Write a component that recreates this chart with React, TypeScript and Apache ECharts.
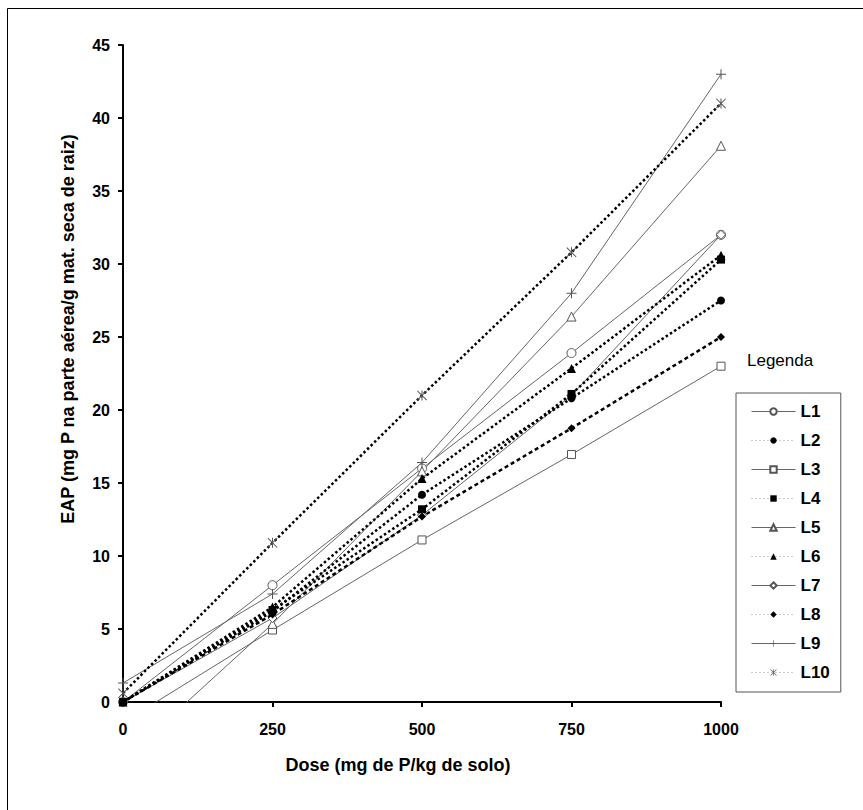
import React, { useEffect, useRef } from "react";
import * as echarts from "echarts";

const doses = [0, 250, 500, 750, 1000];
const seriesNames = ["L1", "L2", "L3", "L4", "L5", "L6", "L7", "L8", "L9", "L10"];
const L1 = [0, 8.0, 16.0, 23.9, 32.0];
const L2 = [0, 6.2, 14.2, 20.8, 27.5];
const L3 = [-1.4, 4.93, 11.1, 16.95, 23.0];
const L4 = [0, 6.3, 13.2, 21.1, 30.3];
const L5 = [-4.0, 5.35, 15.8, 26.4, 38.1];
const L6 = [0, 6.5, 15.3, 22.85, 30.6];
const L7 = [0, 5.75, 12.8, 21.0, 32.0];
const L8 = [0, 6.0, 12.7, 18.75, 25.0];
const L9 = [1.3, 7.4, 16.4, 28.0, 43.0];
const L10 = [0.6, 10.9, 21.0, 30.8, 41.0];
const seriesValues = [L1, L2, L3, L4, L5, L6, L7, L8, L9, L10];
const xTicks = [0, 250, 500, 750, 1000];

const FONT = "'Liberation Sans', Arial, sans-serif";
const PLUS = "path://M4.5,0H5.5V4.5H10V5.5H5.5V10H4.5V5.5H0V4.5H4.5Z";
const STAR =
  "path://M0,0.7L0.7,0L10,9.3L9.3,10Z M10,0.7L0.7,10L0,9.3L9.3,0Z M4.5,0H5.5V10H4.5Z";

type Sty = {
  symbol: string;
  size: number;
  fill: string;
  border: string;
  bw: number;
  solid: boolean;
  dash?: number[];
};

const styles: Sty[] = [
  { symbol: "circle", size: 9, fill: "#fff", border: "#555", bw: 1, solid: true },
  { symbol: "circle", size: 8, fill: "#000", border: "#000", bw: 0, solid: false, dash: [2.5, 2.5] },
  { symbol: "rect", size: 8, fill: "#fff", border: "#555", bw: 1, solid: true },
  { symbol: "rect", size: 8, fill: "#000", border: "#000", bw: 0, solid: false, dash: [2.5, 2.5] },
  { symbol: "triangle", size: 9, fill: "#fff", border: "#555", bw: 1, solid: true },
  { symbol: "triangle", size: 9, fill: "#000", border: "#000", bw: 0, solid: false, dash: [2.5, 2.5] },
  { symbol: "diamond", size: 9, fill: "#fff", border: "#555", bw: 1, solid: true },
  { symbol: "diamond", size: 8, fill: "#000", border: "#000", bw: 0, solid: false, dash: [4, 3] },
  { symbol: PLUS, size: 10, fill: "#555", border: "#555", bw: 0, solid: true },
  { symbol: STAR, size: 10, fill: "#555", border: "#555", bw: 0, solid: false, dash: [2.5, 2.5] },
];

export default function App() {
  const ref = useRef<HTMLDivElement>(null);
  useEffect(() => {
    if (!ref.current) return;
    const chart = echarts.init(ref.current, undefined, { renderer: "svg" });
    const series = seriesNames.map((name, i) => {
      const s = styles[i];
      return {
        name,
        type: "line",
        clip: true,
        symbol: s.symbol,
        symbolSize: s.size,
        showSymbol: true,
        z: s.solid ? 2 : 3,
        itemStyle: { color: s.fill, borderColor: s.border, borderWidth: s.bw },
        lineStyle: s.solid
          ? { color: "#666", width: 1, type: "solid" }
          : { color: "#000", width: 2.5, type: s.dash },
        data: doses.map((d, k) => [d, seriesValues[i][k]]),
      };
    });
    const option = {
      animation: false,
      grid: { left: 123, top: 45, right: 142, bottom: 108 },
      xAxis: {
        type: "value",
        min: xTicks[0],
        max: xTicks[xTicks.length - 1],
        interval: 250,
        splitLine: { show: false },
        axisLine: { show: true, lineStyle: { color: "#000", width: 2 } },
        axisTick: { show: true, length: 5, lineStyle: { color: "#000", width: 2 } },
        axisLabel: {
          margin: 19,
          color: "#000",
          fontSize: 16,
          fontWeight: "bold",
          fontFamily: FONT,
          formatter: (v: number) => String(v),
        },
      },
      yAxis: {
        type: "value",
        min: 0,
        max: 45,
        interval: 5,
        splitLine: { show: false },
        axisLine: { show: true, lineStyle: { color: "#000", width: 2 } },
        axisTick: { show: true, length: 5, lineStyle: { color: "#000", width: 2 } },
        axisLabel: {
          margin: 13,
          color: "#000",
          fontSize: 16,
          fontWeight: "bold",
          fontFamily: FONT,
          formatter: (v: number) => String(v),
        },
      },
      legend: {
        orient: "vertical",
        left: 736,
        top: 393,
        padding: [10, 11, 11, 15],
        borderColor: "#555",
        borderWidth: 1,
        itemWidth: 44,
        itemHeight: 8,
        itemGap: 12,
        textStyle: { fontSize: 17, fontWeight: "bold", color: "#000", fontFamily: FONT },
        data: seriesNames.map((name, i) => ({
          name,
          lineStyle: styles[i].solid
            ? { color: "#666", width: 1, type: "solid" }
            : { color: "#999", width: 1, type: [1, 3] },
        })),
      },
      graphic: [
        {
          type: "line",
          shape: { x1: 7.5, y1: 8.5, x2: 863, y2: 8.5 },
          style: { stroke: "#000", lineWidth: 1 },
        },
        {
          type: "line",
          shape: { x1: 7.5, y1: 8.5, x2: 7.5, y2: 810 },
          style: { stroke: "#000", lineWidth: 1 },
        },
        {
          type: "text",
          x: 747,
          y: 360,
          style: {
            text: "Legenda",
            fontSize: 17,
            fontFamily: FONT,
            fill: "#000",
            align: "left",
            verticalAlign: "middle",
          },
        },
        {
          type: "text",
          x: 398,
          y: 765,
          style: {
            text: "Dose (mg de P/kg de solo)",
            fontSize: 18,
            fontWeight: "bold",
            fontFamily: FONT,
            fill: "#000",
            align: "center",
            verticalAlign: "middle",
          },
        },
        {
          type: "text",
          x: 68,
          y: 329,
          rotation: Math.PI / 2,
          style: {
            text: "EAP (mg P na parte aérea/g mat. seca de raiz)",
            fontSize: 18,
            fontWeight: "bold",
            fontFamily: FONT,
            fill: "#000",
            align: "center",
            verticalAlign: "middle",
          },
        },
      ],
      series,
    };
    chart.setOption(option as any);
    return () => chart.dispose();
  }, []);
  return (
    <div
      ref={ref}
      style={{ position: "absolute", left: 0, top: 0, width: 863, height: 810, background: "#fff" }}
    />
  );
}
